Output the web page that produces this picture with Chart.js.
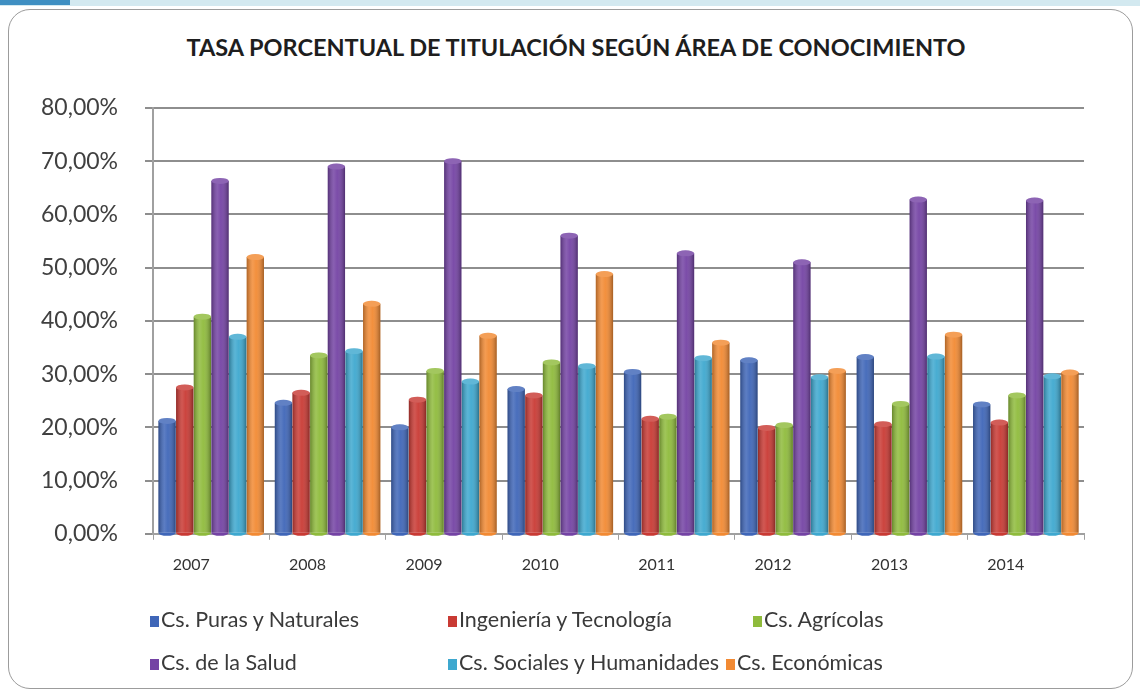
<!DOCTYPE html>
<html>
<head>
<meta charset="utf-8">
<script src="https://cdn.jsdelivr.net/npm/chart.js@4.4.1/dist/chart.umd.min.js"></script>
<style>
  html, body { margin: 0; padding: 0; background: #fff; }
  #wrap { position: relative; width: 1140px; height: 694px; overflow: hidden; }
  #franja { position: absolute; left: 0; top: 0; width: 1140px; height: 6px; background: #d3e9f0; }
  #franja-azul { position: absolute; left: 0; top: 0; width: 70px; height: 5px; background: #3f8fc2; }
  #marco { position: absolute; left: 8px; top: 9px; width: 1123px; height: 678px;
           border: 1.5px solid #9c9c9c; border-radius: 22px; background: #fff; }
  #titulo { position: absolute; left: 176px; top: 33px; width: 800px; text-align: center;
            font-family: Lato, sans-serif; font-weight: bold; font-size: 23.5px; color: #1e1e1e;
            line-height: 28px; white-space: nowrap; }
  #grafica { position: absolute; left: 0; top: 0; }
  #leyenda { position: absolute; left: 0; top: 0; width: 1140px; height: 694px; pointer-events: none;
             font-family: Lato, "Open Sans", sans-serif; font-size: 21.5px; color: #3a3a3a; }
  .item { position: absolute; white-space: nowrap; line-height: 24px; }
  .item span.cuadro { display: inline-block; width: 9px; height: 11px; margin-right: 2px; vertical-align: 0px; }
</style>
</head>
<body>
<div id="wrap">
  <div id="franja"></div>
  <div id="franja-azul"></div>
  <div id="marco"></div>
  <div id="titulo">TASA PORCENTUAL DE TITULACIÓN SEGÚN ÁREA DE CONOCIMIENTO</div>
  <canvas id="grafica" width="1140" height="694"></canvas>
  <div id="leyenda"></div>
</div>
<script>
// Datos
const anios = ['2007', '2008', '2009', '2010', '2011', '2012', '2013', '2014'];
const areas = ['Cs. Puras y Naturales', 'Ingeniería y Tecnología', 'Cs. Agrícolas',
               'Cs. de la Salud', 'Cs. Sociales y Humanidades', 'Cs. Económicas'];
const colores = ['#3f66b8', '#c93a34', '#8fbb3c', '#7443a4', '#3ea8cf', '#f28a33'];

const purasNaturales   = [21.2, 24.6, 20.0, 27.2, 30.4, 32.6, 33.2, 24.3];
const ingenieria       = [27.5, 26.5, 25.2, 26.0, 21.6, 19.9, 20.6, 20.9];
const agricolas        = [40.8, 33.5, 30.6, 32.2, 22.0, 20.4, 24.4, 26.0];
const salud            = [66.3, 69.0, 70.0, 56.0, 52.7, 51.0, 62.8, 62.6];
const socialesHuman    = [37.0, 34.3, 28.6, 31.5, 33.0, 29.4, 33.3, 29.6];
const economicas       = [52.0, 43.2, 37.2, 48.8, 35.9, 30.6, 37.4, 30.3];

const series = [purasNaturales, ingenieria, agricolas, salud, socialesHuman, economicas];
const ticksY = [0, 10, 20, 30, 40, 50, 60, 70, 80];

// Sombreado tipo cilindro sobre cada barra
const cilindros = {
    id: 'cilindros',
    afterDatasetsDraw(chart) {
        const ctx = chart.ctx;
        chart.data.datasets.forEach((ds, i) => {
            const meta = chart.getDatasetMeta(i);
            meta.data.forEach(el => {
                const w = el.width, x0 = el.x - w / 2, top = el.y, base = el.base;
                const g = ctx.createLinearGradient(x0, 0, x0 + w, 0);
                g.addColorStop(0, 'rgba(0,0,0,0.28)');
                g.addColorStop(0.35, 'rgba(255,255,255,0.15)');
                g.addColorStop(0.55, 'rgba(255,255,255,0.05)');
                g.addColorStop(1, 'rgba(0,0,0,0.32)');
                ctx.save();
                ctx.fillStyle = g;
                ctx.fillRect(x0, top, w, base - top);
                // base redondeada
                ctx.beginPath();
                ctx.ellipse(el.x, base, w / 2, 3, 0, 0, Math.PI);
                ctx.fillStyle = ds.backgroundColor;
                ctx.fill();
                // tapa
                ctx.beginPath();
                ctx.ellipse(el.x, top, w / 2, 3, 0, 0, Math.PI * 2);
                ctx.fillStyle = ds.backgroundColor;
                ctx.fill();
                ctx.fillStyle = 'rgba(255,255,255,0.18)';
                ctx.fill();
                ctx.restore();
            });
        });
    }
};

const grafica = new Chart(document.getElementById('grafica'), {
    type: 'bar',
    data: {
        labels: anios,
        datasets: areas.map((a, i) => ({
            label: a,
            data: series[i],
            backgroundColor: colores[i],
            borderWidth: 0,
            categoryPercentage: 0.91,
            barPercentage: 0.98
        }))
    },
    options: {
        responsive: false,
        animation: false,
        layout: { padding: { left: 14, right: 56, top: 108, bottom: 105 } },
        plugins: {
            legend: { display: false },
            tooltip: { enabled: false },
            title: { display: false }
        },
        scales: {
            y: {
                min: 0, max: 80,
                afterBuildTicks: s => { s.ticks = ticksY.map(v => ({ value: v })); },
                ticks: {
                    color: '#404040',
                    font: { family: 'Lato', size: 23 },
                    padding: 27,
                    callback: v => v.toFixed(2).replace('.', ',') + '%'
                },
                grid: { color: '#8e8e8e', lineWidth: 2, tickLength: 8 },
                border: { color: '#a0a0a0', width: 2 }
            },
            x: {
                ticks: {
                    color: '#333',
                    font: { family: 'Lato', size: 16 },
                    labelOffset: -20,
                    padding: 15
                },
                grid: { offset: true, drawOnChartArea: false, tickLength: 6, color: '#a0a0a0' },
                border: { color: '#a0a0a0', width: 2 }
            }
        }
    },
    plugins: [cilindros]
});

// Leyenda en HTML (dos filas, tres columnas)
const posLeyenda = [[150, 607], [448, 607], [753, 607], [150, 650], [448, 650], [726, 650]];
const leyenda = document.getElementById('leyenda');
areas.forEach((a, i) => {
    const d = document.createElement('div');
    d.className = 'item';
    d.style.left = posLeyenda[i][0] + 'px';
    d.style.top = posLeyenda[i][1] + 'px';
    d.innerHTML = `<span class="cuadro" style="background:${colores[i]}"></span>${a}`;
    leyenda.appendChild(d);
});
</script>
</body>
</html>
